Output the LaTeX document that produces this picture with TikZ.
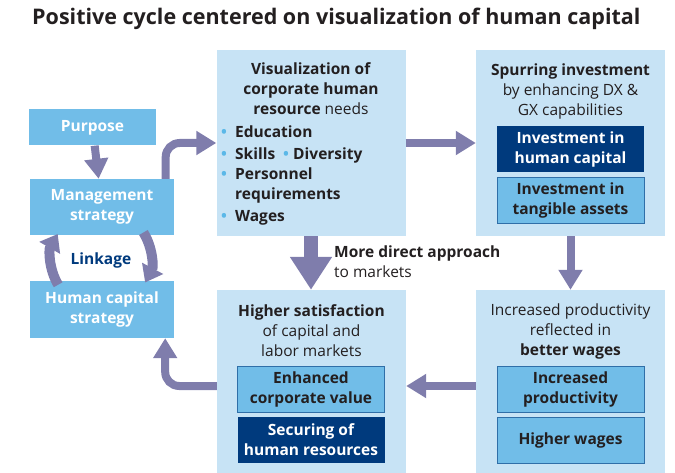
\documentclass[tikz,border=0pt]{standalone}
\usepackage{fontspec}
\setmainfont{Open Sans}
\usepackage{xcolor}
\usetikzlibrary{arrows.meta, positioning, calc}
\definecolor{panelblue}{HTML}{C7E3F5}
\definecolor{midblue}{HTML}{71BDE8}
\definecolor{navyblue}{HTML}{003A7D}
\definecolor{edgeblue}{HTML}{2F6FA8}
\definecolor{cyclepurple}{HTML}{7F7DAC}
\definecolor{inkgray}{HTML}{231F20}
\definecolor{dotblue}{HTML}{5BB8E8}
\newcommand{\bodyfont}{\fontsize{15.5}{20}\selectfont}
\newcommand{\bul}{\makebox[14pt][l]{\textcolor{dotblue}{\textbullet}}}

\begin{document}
\begin{tikzpicture}[
    x=1pt, y=-1pt,
    panel/.style={rectangle, fill=panelblue, minimum width=189pt, minimum height=#1, inner sep=0pt},
    tagbox/.style={rectangle, fill=midblue, text=white, font=\bodyfont\bfseries, align=center, inner sep=0pt},
    subbox/.style={rectangle, fill=midblue, draw=edgeblue, line width=0.8pt, text=inkgray, font=\bodyfont\bfseries, align=center, minimum width=147pt, minimum height=46pt, inner sep=0pt},
    navybox/.style={rectangle, fill=navyblue, text=white, font=\bodyfont\bfseries, align=center, minimum width=147pt, minimum height=46pt, inner sep=0pt},
    heading/.style={font=\bodyfont, text=inkgray, align=center, inner sep=0pt},
    arrow/.style={color=cyclepurple, line width=8pt, -{Triangle[length=20pt, width=23pt]}},
    bigarrow/.style={color=cyclepurple, line width=14pt, -{Triangle[length=33pt, width=40pt]}},
    linkarrow/.style={color=cyclepurple, line width=10pt, -{Triangle[length=16pt, width=23pt]}}
]
\useasboundingbox (0,0) rectangle (675,473);
\node[anchor=base west, font=\fontsize{21.5}{24}\selectfont\bfseries, text=inkgray, inner sep=0pt] (title) at (32,25) {Positive cycle centered on visualization of human capital};
\node[tagbox, minimum width=127pt, minimum height=36pt] (purpose) at (92.5,127.5) {Purpose};
\node[tagbox, minimum width=144pt, minimum height=56pt] (mgmt) at (102,207) {Management\\strategy};
\node[tagbox, minimum width=144pt, minimum height=57pt] (hcs) at (102,309.5) {Human capital\\strategy};
\node[font=\bodyfont\bfseries, text=navyblue, inner sep=0pt] (linkage) at (101,260) {Linkage};
\coordinate (linkc) at (101,259);
\node[panel=186pt] (vis) at (311,143) {};
\node[panel=186pt] (spur) at (570.5,143) {};
\node[panel=183pt] (sat) at (311.5,381.5) {};
\node[panel=183pt] (prod) at (570.5,381.5) {};
\node[heading] (vishead) at (311,89) {\textbf{Visualization of}\\\textbf{corporate human}\\\textbf{resource} needs};
\node[anchor=north west, align=left, font=\bodyfont\bfseries, text=inkgray, inner sep=0pt] (visbul) at (221,126) {\bul Education\\[2pt]\bul Skills\hspace{8pt}\makebox[10pt][l]{\textcolor{dotblue}{\textbullet}}Diversity\\\bul Personnel\\\hspace*{14pt}requirements\\[2pt]\bul Wages};
\node[heading] (spurhead) at (570.5,91) {\textbf{Spurring investment}\\by enhancing DX \&\\GX capabilities};
\node[navybox] (invhc) at (570.5,149.5) {Investment in\\human capital};
\node[subbox] (invta) at (570.5,200) {Investment in\\tangible assets};
\node[heading] (sathead) at (311.5,331) {\textbf{Higher satisfaction}\\of capital and\\labor markets};
\node[subbox] (ecv) at (311,389.5) {Enhanced\\corporate value};
\node[navybox] (sec) at (311,440) {Securing of\\human resources};
\node[heading] (prodhead) at (570.5,331) {Increased productivity\\reflected in\\\textbf{better wages}};
\node[subbox] (incp) at (570.5,389.5) {Increased\\productivity};
\node[subbox] (hw) at (570.5,440) {Higher wages};
\node[anchor=north west, heading, align=left] (direct) at (334,246) {\textbf{More direct approach}\\to markets};
\draw[arrow] (purpose) -- (mgmt);
\draw[arrow, rounded corners=14pt] ([xshift=-8.5pt]mgmt.north east) |- (vis.west);
\draw[arrow] (vis) -- (spur);
\draw[arrow] (spur) -- (prod);
\draw[bigarrow] (vis.south) -- ([xshift=-0.5pt]sat.north);
\draw[arrow] ([yshift=-4.5pt]prod.west) -- ([yshift=-4.5pt]sat.east);
\draw[arrow, rounded corners=14pt] ([yshift=-4.5pt]sat.west) -| ([xshift=-9pt]hcs.south east);
\draw[linkarrow] ([shift={(211:50pt)}]linkc) arc[start angle=211, end angle=150, radius=50pt];
\draw[linkarrow] ([shift={(32:50pt)}]linkc) arc[start angle=32, end angle=-28, radius=50pt];
\end{tikzpicture}
\end{document}
